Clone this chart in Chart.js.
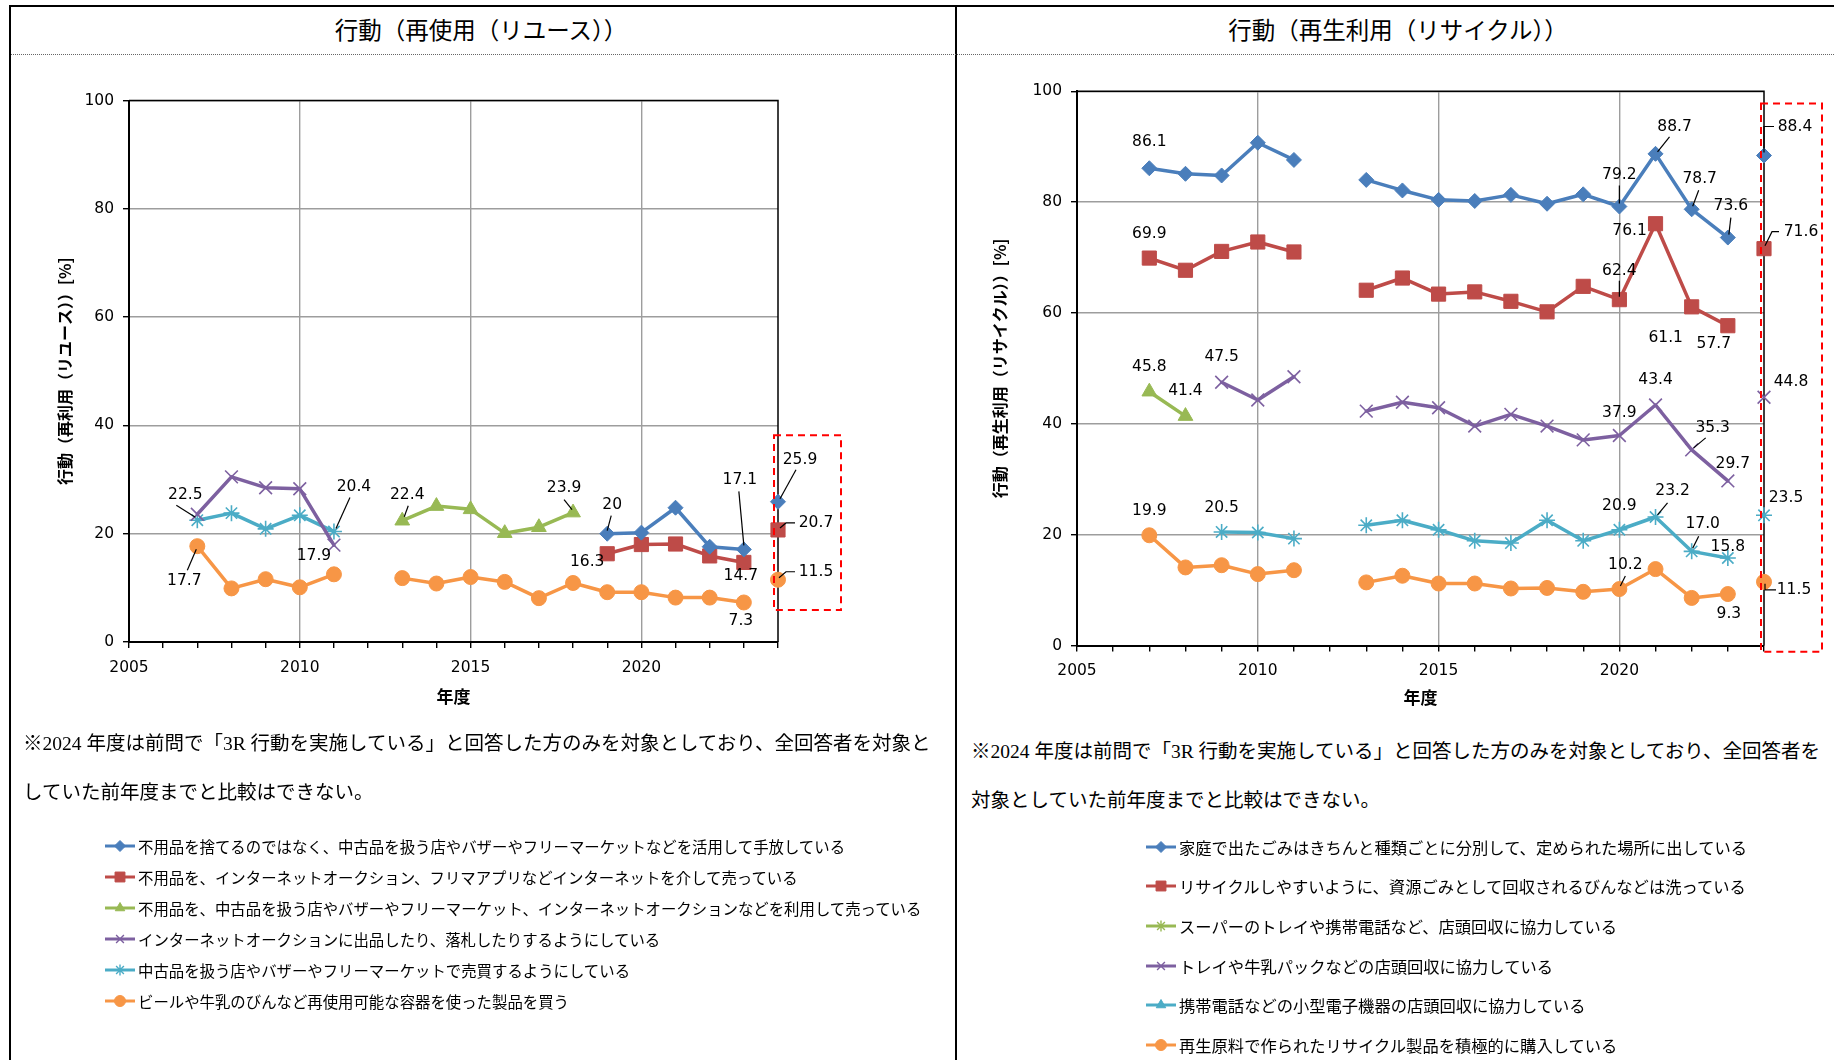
<!DOCTYPE html>
<html lang="ja">
<head>
<meta charset="utf-8">
<title>行動（再使用・再生利用）</title>
<script src="https://cdn.jsdelivr.net/npm/chart.js@4.4.1/dist/chart.umd.min.js"></script>
<style>
  html, body { margin: 0; padding: 0; background: #fff; }
  body { width: 1834px; height: 1060px; position: relative; overflow: hidden;
         font-family: "Noto Sans CJK JP", sans-serif; color: #000; }
  .rule   { position: absolute; background: #000; }
  .dotted { position: absolute; left: 11px; top: 54px; width: 1823px; border-top: 1px dotted #666; }
  .title  { position: absolute; top: 11px; height: 36px; line-height: 36px; font-size: 23.5px;
            font-weight: 400; text-align: center; }
  .chart-box { position: absolute; top: 60px; height: 660px; }
  .note   { position: absolute; font-family: "Liberation Serif", "Noto Sans CJK JP", serif;
            font-size: 19.5px; line-height: 49px; white-space: nowrap; }
  .legend { position: absolute; list-style: none; margin: 0; padding: 0; }
  .legend li { display: flex; align-items: center; white-space: nowrap; }
  .legend canvas { margin-right: 3px; }
</style>
</head>
<body>

<div class="rule" style="left:9px; top:5px; width:1825px; height:2px;"></div>
<div class="rule" style="left:9px; top:5px; width:2px; height:1055px;"></div>
<div class="rule" style="left:955px; top:5px; width:2px; height:1055px;"></div>
<div class="dotted"></div>

<div class="title" style="left:11px; width:940px;">行動（再使用（リユース））</div>
<div class="title" style="left:957px; width:882px;">行動（再生利用（リサイクル））</div>

<div class="chart-box" style="left:11px; width:940px;"><canvas id="chartReuse" width="940" height="660"></canvas></div>
<div class="chart-box" style="left:958px; width:874px;"><canvas id="chartRecycle" width="874" height="660"></canvas></div>

<div class="note" style="left:23px; top:719px;">※2024 年度は前問で「3R 行動を実施している」と回答した方のみを対象としており、全回答者を対象と<br>していた前年度までと比較はできない。</div>
<div class="note" style="left:971px; top:727px;">※2024 年度は前問で「3R 行動を実施している」と回答した方のみを対象としており、全回答者を<br>対象としていた前年度までと比較はできない。</div>

<ul class="legend" id="legendReuse" style="left:105px; top:830px; font-size:15.4px;"></ul>
<ul class="legend" id="legendRecycle" style="left:1146px; top:827px; font-size:16.3px;"></ul>

<script>
// ==================== DATOS ====================

const years = [2007, 2008, 2009, 2010, 2011, 2012, 2013, 2014, 2015,
               2016, 2017, 2018, 2019, 2020, 2021, 2022, 2023, 2024];

// --- 再使用（リユース） ---
const reuseLabels = [
  '不用品を捨てるのではなく、中古品を扱う店やバザーやフリーマーケットなどを活用して手放している',
  '不用品を、インターネットオークション、フリマアプリなどインターネットを介して売っている',
  '不用品を、中古品を扱う店やバザーやフリーマーケット、インターネットオークションなどを利用して売っている',
  'インターネットオークションに出品したり、落札したりするようにしている',
  '中古品を扱う店やバザーやフリーマーケットで売買するようにしている',
  'ビールや牛乳のびんなど再使用可能な容器を使った製品を買う'
];
const reuseGiveAway = [null, null, null, null, null, null, null, null, null, null, null, null, 20, 20.2, 24.8, 17.6, 17.1, 25.9];
const reuseNetSell  = [null, null, null, null, null, null, null, null, null, null, null, null, 16.3, 18.0, 18.1, 15.9, 14.7, 20.7];
const reuseShopSell = [null, null, null, null, null, null, 22.4, 25.1, 24.5, 20.1, 21.2, 23.9, null, null, null, null, null, null];
const reuseAuction  = [23.6, 30.5, 28.5, 28.3, 17.9, null, null, null, null, null, null, null, null, null, null, null, null, null];
const reuseShopUse  = [22.5, 23.8, 20.9, 23.4, 20.4, null, null, null, null, null, null, null, null, null, null, null, null, null];
const reuseBottles  = [17.7, 9.9, 11.6, 10.1, 12.5, null, 11.8, 10.8, 12.0, 11.1, 8.1, 10.9, 9.2, 9.2, 8.2, 8.2, 7.3, 11.5];

// --- 再生利用（リサイクル） ---
const recycleLabels = [
  '家庭で出たごみはきちんと種類ごとに分別して、定められた場所に出している',
  'リサイクルしやすいように、資源ごみとして回収されるびんなどは洗っている',
  'スーパーのトレイや携帯電話など、店頭回収に協力している',
  'トレイや牛乳パックなどの店頭回収に協力している',
  '携帯電話などの小型電子機器の店頭回収に協力している',
  '再生原料で作られたリサイクル製品を積極的に購入している'
];
const recycleSorting = [86.1, 85.1, 84.8, 90.7, 87.6, null, 84.0, 82.1, 80.4, 80.2, 81.3, 79.7, 81.4, 79.2, 88.7, 78.7, 73.6, 88.4];
const recycleWashing = [69.9, 67.7, 71.1, 72.8, 71.0, null, 64.1, 66.3, 63.4, 63.8, 62.1, 60.2, 64.8, 62.4, 76.1, 61.1, 57.7, 71.6];
const recycleStore   = [45.8, 41.4, null, null, null, null, null, null, null, null, null, null, null, null, null, null, null, null];
const recycleTray    = [null, null, 47.5, 44.3, 48.5, null, 42.3, 43.9, 42.9, 39.6, 41.7, 39.6, 37.1, 37.9, 43.4, 35.3, 29.7, 44.8];
const recyclePhone   = [null, null, 20.5, 20.4, 19.3, null, 21.7, 22.6, 20.9, 18.9, 18.5, 22.6, 18.9, 20.9, 23.2, 17.0, 15.8, 23.5];
const recycleBuying  = [19.9, 14.1, 14.5, 12.9, 13.6, null, 11.4, 12.6, 11.2, 11.2, 10.3, 10.4, 9.7, 10.2, 13.8, 8.6, 9.3, 11.5];

// ==================== ESTILOS ====================

const COLORS = ['#4A7EBB', '#BE4B48', '#98B954', '#7D60A0', '#4BACC6', '#F79646'];
const POINTS = [
  { style: 'rectRot',  radius: 7.5 },
  { style: 'rect',     radius: 10 },
  { style: 'triangle', radius: 8.5 },
  { style: 'crossRot', radius: 9 },
  { style: 'star',     radius: 8 },
  { style: 'circle',   radius: 7.5 }
];
const LEGEND_REUSE   = ['rectRot', 'rect', 'triangle', 'crossRot', 'star', 'circle'];
const LEGEND_RECYCLE = ['rectRot', 'rect', 'star', 'crossRot', 'triangle', 'circle'];

const TICK_FONT  = { family: 'DejaVu Sans', size: 15.5 };
const TITLE_FONT = { family: 'Noto Sans CJK JP', size: 16, weight: 'bold' };

// Posiciones de las etiquetas (desplazamientos en px respecto al punto)
const reuseNotes = [
  { s: 4, yr: 2007, dx: -12, dy: -25, ln: [[-2, -3], [-21, -15]] },
  { s: 5, yr: 2007, dx: -13, dy: 35,  ln: [[-1, 3], [-10, 24]] },
  { s: 3, yr: 2011, dx: -20, dy: 11 },
  { s: 4, yr: 2011, dx: 20,  dy: -45, ln: [[2, -3], [16, -34]] },
  { s: 2, yr: 2013, dx: 5,   dy: -26, ln: [[2, -4], [6, -15]] },
  { s: 2, yr: 2018, dx: -9,  dy: -25, ln: [[-1, -3], [-9, -13]] },
  { s: 0, yr: 2019, dx: 5,   dy: -29, ln: [[0, -3], [4, -18]] },
  { s: 1, yr: 2019, dx: -20, dy: 8 },
  { s: 0, yr: 2023, dx: -4,  dy: -69, ln: [[0, -4], [-5, -58]] },
  { s: 1, yr: 2023, dx: -3,  dy: 14 },
  { s: 5, yr: 2023, dx: -3,  dy: 18 },
  { s: 0, yr: 2024, dx: 22,  dy: -42, ln: [[2, -3], [18, -32]] },
  { s: 1, yr: 2024, dx: 38,  dy: -7,  ln: [[2, -2], [8, -7], [17, -7]] },
  { s: 5, yr: 2024, dx: 38,  dy: -8,  ln: [[1, -2], [8, -8], [17, -8]] }
];

const recycleNotes = [
  { s: 0, yr: 2007, dx: 0,   dy: -26 },
  { s: 1, yr: 2007, dx: 0,   dy: -24 },
  { s: 2, yr: 2007, dx: 0,   dy: -25 },
  { s: 2, yr: 2008, dx: 0,   dy: -25 },
  { s: 3, yr: 2009, dx: 0,   dy: -25 },
  { s: 4, yr: 2009, dx: 0,   dy: -24 },
  { s: 5, yr: 2007, dx: 0,   dy: -24 },
  { s: 0, yr: 2020, dx: 0,   dy: -32, ln: [[0, -3], [0, -21]] },
  { s: 0, yr: 2021, dx: 19,  dy: -27, ln: [[2, -2], [14, -17]] },
  { s: 0, yr: 2022, dx: 8,   dy: -30, ln: [[1, -3], [7, -19]] },
  { s: 0, yr: 2023, dx: 3,   dy: -32, ln: [[1, -3], [3, -20]] },
  { s: 0, yr: 2024, dx: 31,  dy: -29, ln: [[0, -3], [0, -29], [10, -29]] },
  { s: 1, yr: 2020, dx: 0,   dy: -29, ln: [[0, -3], [0, -19]] },
  { s: 1, yr: 2021, dx: -26, dy: 7 },
  { s: 1, yr: 2022, dx: -26, dy: 31 },
  { s: 1, yr: 2023, dx: -14, dy: 18 },
  { s: 1, yr: 2024, dx: 37,  dy: -17, ln: [[1, -3], [8, -17], [15, -17]] },
  { s: 3, yr: 2020, dx: 0,   dy: -23 },
  { s: 3, yr: 2021, dx: 0,   dy: -25 },
  { s: 3, yr: 2022, dx: 21,  dy: -22, ln: [[2, -2], [14, -12]] },
  { s: 3, yr: 2023, dx: 5,   dy: -17 },
  { s: 3, yr: 2024, dx: 27,  dy: -15 },
  { s: 4, yr: 2020, dx: 0,   dy: -24 },
  { s: 4, yr: 2021, dx: 17,  dy: -26, ln: [[2, -2], [12, -14]] },
  { s: 4, yr: 2022, dx: 11,  dy: -27, ln: [[1, -3], [7, -15]] },
  { s: 4, yr: 2023, dx: 0,   dy: -11 },
  { s: 4, yr: 2024, dx: 22,  dy: -17 },
  { s: 5, yr: 2020, dx: 6,   dy: -24, ln: [[1, -3], [6, -13]] },
  { s: 5, yr: 2023, dx: 1,   dy: 20 },
  { s: 5, yr: 2024, dx: 30,  dy: 8,   ln: [[1, 2], [1, 8], [12, 8]] }
];

// ==================== PLUGIN: marco, etiquetas y recuadro ====================

function notesPlugin(notes, fmt, box) {
  return {
    id: 'notes',
    beforeDatasetsDraw(chart) {
      // borde superior y derecho del área de trazado
      const { ctx, chartArea: a } = chart;
      ctx.save();
      ctx.strokeStyle = '#000';
      ctx.lineWidth = 1.5;
      ctx.beginPath();
      ctx.moveTo(a.left, a.top);
      ctx.lineTo(a.right, a.top);
      ctx.lineTo(a.right, a.bottom);
      ctx.stroke();
      ctx.restore();
    },
    afterDatasetsDraw(chart) {
      const { ctx, chartArea: a, scales: { x, y } } = chart;
      ctx.save();
      ctx.font = '15.5px "DejaVu Sans"';
      ctx.textAlign = 'center';
      ctx.textBaseline = 'middle';
      ctx.fillStyle = '#000';
      ctx.strokeStyle = '#000';
      ctx.lineWidth = 1.2;
      for (const n of notes) {
        const pt = chart.data.datasets[n.s].data.find(p => p.x === n.yr);
        const px = x.getPixelForValue(pt.x);
        const py = y.getPixelForValue(pt.y);
        if (n.ln) {
          ctx.beginPath();
          n.ln.forEach(([lx, ly], i) => i ? ctx.lineTo(px + lx, py + ly) : ctx.moveTo(px + lx, py + ly));
          ctx.stroke();
        }
        ctx.fillText(fmt(pt.y), px + n.dx, py + n.dy);
      }

      // recuadro rojo discontinuo alrededor de 2024
      const top = y.getPixelForValue(box.top);
      const bottom = y.getPixelForValue(box.bottom);
      ctx.strokeStyle = '#FF0000';
      ctx.lineWidth = 2;
      ctx.setLineDash([7, 5]);
      ctx.strokeRect(a.right + box.left, top, box.width, bottom - top);
      ctx.restore();
    }
  };
}

// ==================== GRÁFICOS ====================

function buildDatasets(labels, series) {
  return series.map((values, i) => ({
    label: labels[i],
    data: years.map((yr, k) => ({ x: yr, y: values[k] })),
    borderColor: COLORS[i],
    backgroundColor: COLORS[i],
    borderWidth: 3.5,
    borderJoinStyle: 'round',
    borderCapStyle: 'round',
    pointStyle: POINTS[i].style,
    pointRadius: POINTS[i].radius,
    pointHoverRadius: POINTS[i].radius,
    pointBorderWidth: (POINTS[i].style === 'crossRot' || POINTS[i].style === 'star') ? 1.6 : 1,
    pointBorderColor: COLORS[i],
    pointBackgroundColor: COLORS[i],
    spanGaps: false,
    clip: false,
    // 2024 no se une con la serie anterior
    segment: { borderColor: ctx => ctx.p1.parsed.x === 2024 ? 'rgba(0,0,0,0)' : undefined }
  }));
}

function renderChart(canvasId, datasets, cfg) {
  return new Chart(document.getElementById(canvasId).getContext('2d'), {
    type: 'line',
    data: { datasets },
    plugins: [notesPlugin(cfg.notes, cfg.fmt, cfg.box)],
    options: {
      responsive: false,
      animation: false,
      layout: { padding: cfg.padding },
      plugins: { legend: { display: false }, tooltip: { enabled: false } },
      scales: {
        x: {
          type: 'linear',
          min: 2005,
          max: 2024,
          ticks: {
            stepSize: 1,
            autoSkip: false,
            maxRotation: 0,
            padding: cfg.xTickPad,
            color: '#000',
            font: TICK_FONT,
            callback: v => v % 5 === 0 ? String(v) : ''
          },
          grid: {
            color: c => (c.tick && c.tick.value % 5 === 0 && c.tick.value > 2005) ? '#9d9d9d' : 'rgba(0,0,0,0)',
            lineWidth: 1.4,
            tickColor: '#000',
            tickLength: 6,
            tickWidth: 1.4
          },
          border: { color: '#000', width: 2 },
          title: {
            display: true,
            text: '年度',
            color: '#000',
            font: { family: 'Noto Sans CJK JP', size: 17, weight: 'bold' },
            padding: { top: 0, bottom: cfg.xTitlePad }
          },
          afterFit: s => { s.height = cfg.xHeight; }
        },
        y: {
          min: 0,
          max: 100,
          ticks: { stepSize: 20, padding: 9, color: '#000', font: TICK_FONT },
          grid: { color: '#9d9d9d', lineWidth: 1.4, tickColor: '#000', tickLength: 6, tickWidth: 1.4 },
          border: { color: '#000', width: 2 },
          title: {
            display: true,
            text: cfg.yTitle,
            color: '#000',
            font: TITLE_FONT,
            padding: { top: 4, bottom: 0 }
          },
          afterFit: s => { s.width = cfg.yWidth; }
        }
      }
    }
  });
}

renderChart('chartReuse',
  buildDatasets(reuseLabels, [reuseGiveAway, reuseNetSell, reuseShopSell, reuseAuction, reuseShopUse, reuseBottles]),
  {
    notes: reuseNotes,
    fmt: v => String(v),
    box: { left: -4, width: 67, top: 38.2, bottom: 5.9 },
    padding: { left: 40, right: 173, top: 40.6, bottom: 0 },
    yWidth: 78,
    xHeight: 78,
    xTickPad: 11,
    xTitlePad: 13,
    yTitle: '行動（再利用（リユース））[%]'
  });

renderChart('chartRecycle',
  buildDatasets(recycleLabels, [recycleSorting, recycleWashing, recycleStore, recycleTray, recyclePhone, recycleBuying]),
  {
    notes: recycleNotes,
    fmt: v => v.toFixed(1),
    box: { left: -3, width: 61, top: 97.8, bottom: -1.1 },
    padding: { left: 28, right: 68, top: 31.2, bottom: 0 },
    yWidth: 91,
    xHeight: 74.4,
    xTickPad: 10,
    xTitlePad: 12,
    yTitle: '行動（再生利用（リサイクル））[%]'
  });

// ==================== LEYENDAS ====================

function renderLegend(listId, labels, styles) {
  const ul = document.getElementById(listId);
  labels.forEach((text, i) => {
    const li = document.createElement('li');
    li.style.height = listId === 'legendReuse' ? '31px' : '39.6px';
    const c = document.createElement('canvas');
    c.width = 30;
    c.height = 16;
    const g = c.getContext('2d');
    g.strokeStyle = COLORS[i];
    g.fillStyle = COLORS[i];
    g.lineWidth = 3;
    g.beginPath();
    g.moveTo(0, 8);
    g.lineTo(30, 8);
    g.stroke();
    const r = styles[i] === 'rect' ? 7 : 5.5;
    g.lineWidth = (styles[i] === 'crossRot' || styles[i] === 'star') ? 1.4 : 1;
    if (Chart.helpers && Chart.helpers.drawPoint) {
      Chart.helpers.drawPoint(g, { pointStyle: styles[i], radius: r, borderWidth: g.lineWidth, rotation: 0 }, 15, 8);
    } else {
      g.beginPath();
      g.arc(15, 8, r, 0, Math.PI * 2);
      g.fill();
    }
    li.appendChild(c);
    li.appendChild(document.createTextNode(text));
    ul.appendChild(li);
  });
}

renderLegend('legendReuse', reuseLabels, LEGEND_REUSE);
renderLegend('legendRecycle', recycleLabels, LEGEND_RECYCLE);
</script>
</body>
</html>
